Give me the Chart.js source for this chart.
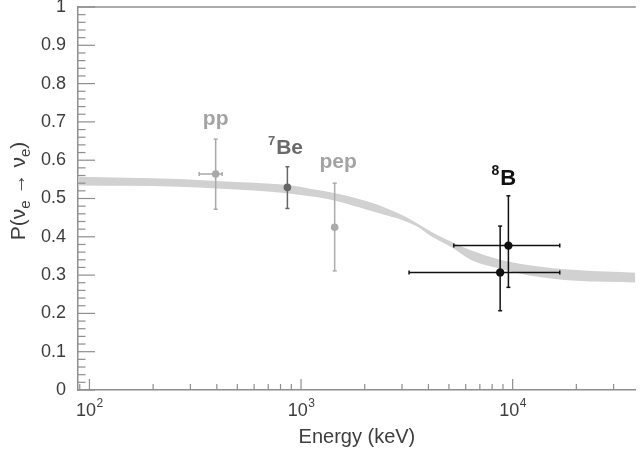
<!DOCTYPE html>
<html><head><meta charset="utf-8">
<script src="https://cdn.jsdelivr.net/npm/chart.js@4/dist/chart.umd.min.js"></script>
<style>html,body{margin:0;padding:0;background:#fff;overflow:hidden}</style>
</head><body>
<canvas id="c" width="640" height="453"></canvas>
<script>
// ---- data ----
const bandEnergy = [88, 150, 266, 400, 600, 862, 1200, 1450, 2070, 2600, 3000, 3550, 4100, 5100, 6400, 8400, 12000, 20000, 38000];
const bandUpper  = [0.557, 0.554, 0.551, 0.546, 0.541, 0.535, 0.522, 0.514, 0.492, 0.472, 0.457, 0.435, 0.414, 0.388, 0.364, 0.343, 0.326, 0.313, 0.306];
const bandLower  = [0.534, 0.533, 0.531, 0.526, 0.521, 0.514, 0.503, 0.494, 0.470, 0.454, 0.444, 0.426, 0.402, 0.374, 0.339, 0.319, 0.299, 0.285, 0.281];

const sourceNames = ['pp', '7Be', 'pep', '8B', '8B'];
const energy   = [395, 862, 1442, 8730, 9550];
const prob     = [0.564, 0.529, 0.425, 0.307, 0.377];
const probLow  = [0.472, 0.474, 0.311, 0.207, 0.268];
const probHigh = [0.655, 0.583, 0.540, 0.428, 0.507];
const energyLow  = [330, null, null, 3240, 5270];
const energyHigh = [424, null, null, 16700, 16700];

const labelTexts = [['', 'pp'], ['7', 'Be'], ['', 'pep'], ['8', 'B']];
const labelEnergy = [395, 844, 1496, 9080];
const labelProb   = [0.692, 0.615, 0.580, 0.535];

const yTickValues = [0, 0.1, 0.2, 0.3, 0.4, 0.5, 0.6, 0.7, 0.8, 0.9, 1];
const xTickValues = [100, 1000, 10000];
const xTickBase = ['10', '10', '10'];
const xTickExp  = ['2', '3', '4'];
const yTitleParts = [['P(ν', 0], ['e', 1], ['→', 2], ['ν', 0], ['e', 1], [')', 0]];

// ---- styles ----
const pointColors = ['#a9a9a9', '#666666', '#ababab', '#111111', '#111111'];
const labelColors = ['#a3a3a3', '#6a6a6a', '#a3a3a3', '#111111'];
const labelSizes  = [21, 21, 21, 22];
const FONT = "'Liberation Sans', Arial, Helvetica, sans-serif";
const AXIS = '#8e8e8e';
const TEXT = '#3d3d3d';

const pointSets = energy.map((e, i) => ({
  label: sourceNames[i],
  data: [{x: e, y: prob[i]}],
  idx: i,
  order: 0,
  pointRadius: i >= 3 ? 4.2 : 3.8,
  pointBackgroundColor: pointColors[i],
  pointBorderColor: pointColors[i],
  pointBorderWidth: 0,
  showLine: false
}));

const bandStyle = {showLine: true, pointRadius: 0, borderWidth: 0, cubicInterpolationMode: 'monotone', order: 10, backgroundColor: '#d1d1d1', borderColor: 'rgba(0,0,0,0)'};

const datasets = pointSets.concat([
  Object.assign({label: 'upper', data: bandEnergy.map((e, i) => ({x: e, y: bandUpper[i]})), fill: '+1'}, bandStyle),
  Object.assign({label: 'lower', data: bandEnergy.map((e, i) => ({x: e, y: bandLower[i]})), fill: false}, bandStyle)
]);

function seg(ctx, x1, y1, x2, y2) { ctx.beginPath(); ctx.moveTo(x1, y1); ctx.lineTo(x2, y2); ctx.stroke(); }

const deco = {
  id: 'deco',
  beforeDatasetDraw(chart, args) {
    const ds = chart.data.datasets[args.index];
    if (ds.idx === undefined) return;
    const i = ds.idx, xs = chart.scales.x, ys = chart.scales.y, ctx = chart.ctx;
    ctx.save();
    ctx.strokeStyle = pointColors[i];
    ctx.lineWidth = 1.5;
    const px = xs.getPixelForValue(energy[i]);
    const py = ys.getPixelForValue(prob[i]);
    const y1 = ys.getPixelForValue(probHigh[i]), y2 = ys.getPixelForValue(probLow[i]);
    seg(ctx, px, y1, px, y2);
    seg(ctx, px - 2, y1, px + 2, y1);
    seg(ctx, px - 2, y2, px + 2, y2);
    if (energyLow[i] != null) {
      const x1 = xs.getPixelForValue(energyLow[i]), x2 = xs.getPixelForValue(energyHigh[i]);
      seg(ctx, x1, py, x2, py);
      seg(ctx, x1, py - 2, x1, py + 2);
      seg(ctx, x2, py - 2, x2, py + 2);
    }
    ctx.restore();
  },
  afterDraw(chart) {
    const ctx = chart.ctx, a = chart.chartArea, xs = chart.scales.x, ys = chart.scales.y;
    ctx.save();
    ctx.strokeStyle = AXIS;
    ctx.lineWidth = 1.5;
    seg(ctx, a.left, a.top, a.right, a.top);
    ctx.lineWidth = 1.2;
    for (let k = 0; k <= 50; k++) {
      const py = ys.getPixelForValue(k / 50);
      seg(ctx, a.left, py, a.left + (k % 5 === 0 ? 17 : 7.5), py);
    }
    for (let d = 1; d <= 4; d++) {
      for (let m = 1; m <= 9; m++) {
        const v = m * Math.pow(10, d);
        if (v < xs.min || v > xs.max) continue;
        const px = xs.getPixelForValue(v);
        seg(ctx, px, a.bottom, px, a.bottom - (m === 1 ? 11 : 6));
      }
    }
    // x tick labels 10^n
    ctx.fillStyle = TEXT;
    ctx.textBaseline = 'alphabetic';
    xTickValues.forEach((v, i) => {
      const px = xs.getPixelForValue(v);
      ctx.font = '18px ' + FONT;
      const w1 = ctx.measureText(xTickBase[i]).width;
      ctx.font = '12px ' + FONT;
      const w2 = ctx.measureText(xTickExp[i]).width;
      const x0 = px - (w1 + w2) / 2;
      ctx.font = '18px ' + FONT;
      ctx.fillText(xTickBase[i], x0, a.bottom + 26);
      ctx.font = '12px ' + FONT;
      ctx.fillText(xTickExp[i], x0 + w1 + 0.5, a.bottom + 17);
    });
    // y title with subscripts
    ctx.save();
    ctx.translate(25, 191);
    ctx.rotate(-Math.PI / 2);
    const fontOf = p => (p[1] === 1 ? '15px ' : '21px ') + FONT;
    const gapOf = p => (p[1] === 2 ? 6 : 0);
    let total = 0;
    yTitleParts.forEach(p => { ctx.font = fontOf(p); total += ctx.measureText(p[0]).width + 2 * gapOf(p); });
    let cx = -total / 2;
    yTitleParts.forEach(p => {
      ctx.font = fontOf(p);
      cx += gapOf(p);
      ctx.fillText(p[0], cx, p[1] === 1 ? 5 : 0);
      cx += ctx.measureText(p[0]).width + gapOf(p);
    });
    ctx.restore();
    // annotations
    labelTexts.forEach((t, i) => {
      const size = labelSizes[i];
      const sup = Math.round(size * 0.62);
      const lx = xs.getPixelForValue(labelEnergy[i]);
      const by = ys.getPixelForValue(labelProb[i]);
      ctx.fillStyle = labelColors[i];
      ctx.font = 'bold ' + sup + 'px ' + FONT;
      const w1 = t[0] ? ctx.measureText(t[0]).width + 1 : 0;
      ctx.font = 'bold ' + size + 'px ' + FONT;
      const w2 = ctx.measureText(t[1]).width;
      const x0 = lx - (w1 + w2) / 2;
      if (t[0]) {
        ctx.font = 'bold ' + sup + 'px ' + FONT;
        ctx.fillText(t[0], x0, by - size * 0.45);
        ctx.font = 'bold ' + size + 'px ' + FONT;
      }
      ctx.fillText(t[1], x0 + w1, by);
    });
    ctx.restore();
  }
};

new Chart(document.getElementById('c'), {
  type: 'scatter',
  data: {datasets},
  options: {
    responsive: false,
    animation: false,
    devicePixelRatio: 1,
    layout: {padding: {top: 7, left: 0, right: 0, bottom: 0}},
    plugins: {legend: {display: false}, tooltip: {enabled: false}},
    scales: {
      x: {
        type: 'logarithmic',
        min: 88.3,
        max: 38200,
        afterBuildTicks: s => { s.ticks = xTickValues.map(v => ({value: v, major: true})); },
        afterFit: s => { s.height = 63; s.paddingLeft = 0; s.paddingRight = 0; },
        grid: {display: false, drawTicks: false, tickLength: 0},
        border: {display: true, color: AXIS, width: 1.5},
        ticks: {display: false},
        title: {display: true, text: 'Energy (keV)', color: TEXT, font: {family: FONT, size: 20}, padding: {top: 0, bottom: 4}}
      },
      y: {
        min: 0,
        max: 1,
        afterBuildTicks: s => { s.ticks = yTickValues.map(v => ({value: v})); },
        afterFit: s => { s.width = 78; s.paddingTop = 0; s.paddingBottom = 0; },
        grid: {display: false, drawTicks: false, tickLength: 0},
        border: {display: true, color: AXIS, width: 1.5},
        ticks: {
          padding: 12, color: TEXT,
          font: {family: FONT, size: 18},
          callback: v => String(Math.round(v * 10) / 10)
        }
      }
    }
  },
  plugins: [deco]
});
</script>
</body></html>
